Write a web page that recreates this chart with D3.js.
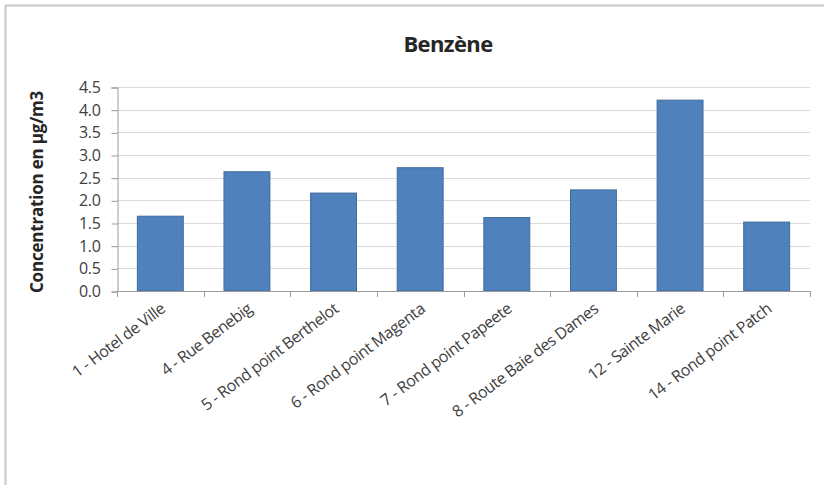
<!DOCTYPE html>
<html>
<head>
<meta charset="utf-8">
<script src="https://cdn.jsdelivr.net/npm/d3@7"></script>
<style>
  html, body { margin: 0; padding: 0; background: #fff; }
  svg { display: block; font-family: "Open Sans", "Noto Sans", sans-serif; }
</style>
</head>
<body>
<svg id="chart" width="824" height="485"></svg>
<script>
// Benzene concentration by measurement site
const sites = [
  "1 - Hotel de Ville",
  "4 - Rue Benebig",
  "5 - Rond point Berthelot",
  "6 - Rond point Magenta",
  "7 - Rond point Papeete",
  "8 - Route Baie des Dames",
  "12 - Sainte Marie",
  "14 - Rond point Patch"
];
const benzene = [1.65, 2.63, 2.16, 2.72, 1.62, 2.23, 4.21, 1.52];
const yTicks = [0, 0.5, 1, 1.5, 2, 2.5, 3, 3.5, 4, 4.5];
const titleText = "Benzène";
const yTitle = "Concentration  en µg/m3";

const svg = d3.select("#chart");
const W = 824, H = 485;
const m = { left: 117, right: 14, top: 87, bottom: H - 291 };

// chart area frame (top and left edges)
svg.append("line").attr("x1", 5).attr("x2", W).attr("y1", 5.5).attr("y2", 5.5)
  .attr("stroke", "#c8c8c8").attr("stroke-width", 2);
svg.append("line").attr("x1", 5.5).attr("x2", 5.5).attr("y1", 5).attr("y2", H)
  .attr("stroke", "#c8c8c8").attr("stroke-width", 2);

const x = d3.scaleBand().domain(sites).range([m.left, W - m.right]).paddingInner(0.47).paddingOuter(0.235);
const y = d3.scaleLinear().domain([0, 4.5]).range([H - m.bottom, m.top]);

// horizontal gridlines
svg.append("g").selectAll("line").data(yTicks.slice(1)).join("line")
  .attr("x1", m.left).attr("x2", W - m.right)
  .attr("y1", d => Math.round(y(d)) + 0.5).attr("y2", d => Math.round(y(d)) + 0.5)
  .attr("stroke", "#d9d9d9").attr("stroke-width", 1);

// bars
svg.append("g").selectAll("rect").data(benzene).join("rect")
  .attr("x", (d, i) => x(sites[i]))
  .attr("width", x.bandwidth())
  .attr("y", d => y(d))
  .attr("height", d => y(0) - y(d))
  .attr("fill", "#4f81bd")
  .attr("stroke", "#3f6a9c").attr("stroke-width", 1);

// y axis
const yAxis = d3.axisLeft(y).tickValues(yTicks).tickFormat(d3.format(".1f")).tickSize(6).tickPadding(11);
const gy = svg.append("g").attr("transform", `translate(${m.left + 0.5},0.5)`).call(yAxis);
gy.select(".domain").attr("stroke", "#9a9a9a");
gy.selectAll(".tick line").attr("stroke", "#9a9a9a");
gy.selectAll(".tick text").attr("font-size", 16).attr("fill", "#404040")
  .attr("font-family", "'Open Sans', sans-serif").style("letter-spacing", "-0.3px");

// x axis: ticks sit between categories
const bounds = d3.range(sites.length + 1).map(i => m.left + i * (W - m.left - m.right) / sites.length);
const gx = svg.append("g");
gx.append("line").attr("x1", m.left).attr("x2", W - m.right)
  .attr("y1", y(0) + 0.5).attr("y2", y(0) + 0.5).attr("stroke", "#9a9a9a");
gx.selectAll("line.tk").data(bounds).join("line").attr("class", "tk")
  .attr("x1", d => Math.round(d) + 0.5).attr("x2", d => Math.round(d) + 0.5)
  .attr("y1", y(0)).attr("y2", y(0) + 6).attr("stroke", "#9a9a9a");
gx.selectAll("text").data(sites).join("text")
  .attr("transform", d => `translate(${x(d) + x.bandwidth() / 2 + 6},${y(0) + 20}) rotate(-37)`)
  .attr("text-anchor", "end")
  .attr("font-size", 16).attr("fill", "#404040")
  .style("letter-spacing", "-0.5px")
  .text(d => d);

// title
svg.append("text").attr("x", 448).attr("y", 52).attr("text-anchor", "middle")
  .attr("font-size", 22).attr("font-weight", "bold").attr("fill", "#262626")
  .style("letter-spacing", "-0.6px")
  .text(titleText);

// y axis title
svg.append("text").attr("transform", `translate(43,${(y(0) + y(4.5)) / 2 + 3}) rotate(-90)`)
  .attr("text-anchor", "middle").attr("font-size", 17).attr("font-weight", "bold").attr("fill", "#262626")
  .style("letter-spacing", "-0.2px")
  .text(yTitle);
</script>
</body>
</html>
